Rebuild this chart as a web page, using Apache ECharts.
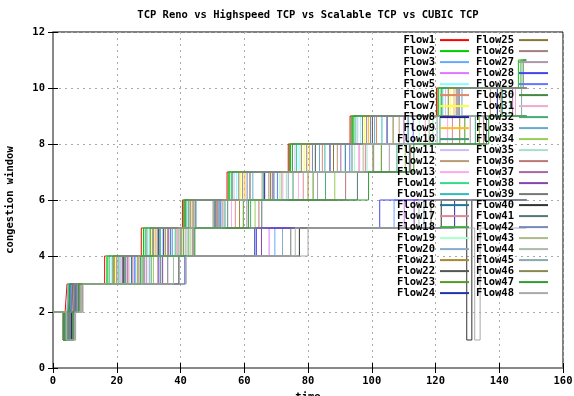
<!DOCTYPE html>
<html>
<head>
<meta charset="utf-8">
<title>TCP Reno vs Highspeed TCP vs Scalable TCP vs CUBIC TCP</title>
<script src="https://cdn.jsdelivr.net/npm/echarts@6/dist/echarts.min.js"></script>
<style>
  html, body { margin: 0; padding: 0; background: #fff; }
  #chart { width: 574px; height: 396px; }
</style>
</head>
<body>
<div id="chart"></div>
<script>
const FONT = "'DejaVu Sans Mono', 'Liberation Mono', monospace";

const chartTitle = "TCP Reno vs Highspeed TCP vs Scalable TCP vs CUBIC TCP";
const xTicks = { min: 0, max: 160, step: 20 };
const yTicks = { min: 0, max: 12, step: 2 };

const flowNames = [];
for (let i = 1; i <= 48; i++) flowNames.push("Flow" + i);

const flowColors = [
  "#ff0000", "#00cc00", "#66aaff", "#dd77ff", "#88ffff", "#dd8866",
  "#ffff33", "#222299", "#ffbb22", "#449977", "#ccbbff", "#bb9977",
  "#ffaaee", "#33dd88", "#33bbbb", "#227799", "#dd8899", "#44aa44",
  "#aaffcc", "#88aacc", "#aa8833", "#555555", "#559922", "#2233aa",
  "#887733", "#a08080", "#aa99aa", "#4444ee", "#6677ff", "#448844",
  "#eeaacc", "#44aa77", "#66aacc", "#99cc55", "#aaddcc", "#bb7777",
  "#aa66aa", "#8844aa", "#777777", "#333333", "#557777", "#7788bb",
  "#aabb88", "#aabbaa", "#88aaaa", "#888855", "#339933", "#aaaaaa"
];

// cwnd change points, flat: time, cwnd, time, cwnd ...
// Flow1 - Flow12
const flowsA = [
  [0,2, 3.3,1, 3.8,2, 4.4,3, 16.2,4, 27.7,5, 40.6,6, 54.6,7, 73.8,8, 93.2,9, 120.3,10, 148.5,10],
  [0,2, 3.5,1, 4.6,2, 5.0,3, 17.0,4, 28.4,5, 41.2,6, 55.3,7, 74.5,8, 94.0,9, 121.0,10, 146.0,11, 148.5,11],
  [0,2, 3.6,1, 4.9,2, 5.9,3, 25.8,4, 69.6,5, 107.0,6, 148.5,6],
  [0,2, 3.9,1, 5.7,2, 6.6,3, 28.8,4, 67.8,5, 110.2,6, 148.5,6],
  [0,2, 3.9,1, 4.5,2, 5.8,3, 18.3,4, 30.1,5, 42.8,6, 57.6,7, 77.2,8, 96.5,9, 122.4,10, 148.5,10],
  [0,2, 3.4,1, 4.4,2, 5.1,3, 19.3,4, 33.2,5, 50.2,6, 65.6,7, 84.5,8, 101.5,9, 137.2,10, 148.5,10],
  [0,2, 3.2,1, 4.8,2, 6.1,3, 19.5,4, 31.0,5, 43.6,6, 58.9,7, 78.8,8, 97.8,9, 124.6,10, 148.5,10],
  [0,2, 3.7,1, 5.3,2, 6.0,3, 21.9,4, 34.6,5, 50.8,6, 66.4,7, 86.9,8, 104.8,9, 139.4,10, 148.5,10],
  [0,2, 4.1,1, 5.2,2, 6.5,3, 20.4,4, 32.2,5, 44.1,6, 60.2,7, 80.5,8, 99.0,9, 125.8,10, 148.5,10],
  [0,2, 3.4,1, 5.0,2, 5.4,3, 22.4,4, 38.3,5, 54.8,6, 75.3,7, 93.8,8, 121.4,9, 148.5,9],
  [0,2, 3.6,1, 5.5,2, 5.9,3, 21.2,4, 29.6,5, 42.3,6, 56.8,7, 75.9,8, 95.6,9, 123.1,10, 148.5,10],
  [0,2, 4.0,1, 5.7,2, 6.8,3, 23.8,4, 35.9,5, 51.4,6, 67.7,7, 89.2,8, 108.6,9, 148.5,9]
];
// Flow13 - Flow24
const flowsB = [
  [0,2, 3.8,1, 4.2,2, 4.8,3, 23.6,4, 38.8,5, 56.0,6, 77.0,7, 95.9,8, 123.8,9, 148.5,9],
  [0,2, 3.4,1, 4.1,2, 4.9,3, 16.8,4, 28.9,5, 41.8,6, 55.9,7, 76.4,8, 95.0,9, 121.7,10, 148.5,10],
  [0,2, 3.2,1, 4.0,2, 4.7,3, 20.7,4, 33.7,5, 50.5,6, 66.0,7, 85.3,8, 103.2,9, 141.0,10, 148.5,10],
  [0,2, 3.6,1, 4.9,2, 5.5,3, 24.6,4, 36.8,5, 52.1,6, 69.3,7, 91.7,8, 111.4,9, 148.5,9],
  [0,2, 4.0,1, 5.5,2, 6.4,3, 25.0,4, 39.5,5, 57.2,6, 78.5,7, 98.0,8, 125.3,9, 148.5,9],
  [0,2, 3.7,1, 5.0,2, 5.6,3, 17.6,4, 29.2,5, 40.9,6, 55.0,7, 74.2,8, 93.6,9, 120.7,10, 146.8,11, 148.5,11],
  [0,2, 4.2,1, 6.4,2, 7.8,3, 26.3,4, 38.1,5, 52.9,6, 71.0,7, 94.6,8, 114.9,9, 143.3,10, 148.5,10],
  [0,2, 3.2,1, 4.6,2, 5.4,3, 30.2,4, 72.0,5, 116.4,6, 148.5,6],
  [0,2, 3.6,1, 6.5,2, 7.4,3, 26.6,4, 40.4,5, 58.5,6, 80.0,7, 100.6,8, 127.6,9, 148.5,9],
  [0,2, 4.0,1, 6.2,2, 7.0,3, 22.1,4, 33.1,5, 44.6,6, 61.8,7, 82.3,8, 100.2,9, 127.4,10, 148.5,10],
  [0,2, 3.1,1, 4.5,2, 5.2,3, 28.5,4, 41.0,5, 59.7,6, 81.6,7, 103.0,8, 129.2,9, 148.5,9],
  [0,2, 4.1,1, 6.0,2, 7.2,3, 41.4,4, 63.3,5, 126.0,6, 148.5,6]
];
// Flow25 - Flow36
const flowsC = [
  [0,2, 3.8,1, 5.6,2, 6.2,3, 22.8,4, 35.2,5, 51.1,6, 68.2,7, 88.0,8, 106.7,9, 140.6,10, 148.5,10],
  [0,2, 3.8,1, 5.9,2, 6.6,3, 21.7,4, 32.7,5, 43.2,6, 59.5,7, 79.6,8, 98.4,9, 126.5,10, 148.5,10],
  [0,2, 4.2,1, 6.8,2, 8.6,3, 29.4,4, 41.7,5, 60.8,6, 83.0,7, 105.5,8, 130.9,9, 148.5,9],
  [0,2, 3.5,1, 5.3,2, 6.3,3, 33.2,4, 63.8,5, 102.5,6, 148.5,6],
  [0,2, 3.3,1, 4.7,2, 5.7,3, 25.5,4, 37.4,5, 52.6,6, 70.4,7, 93.1,8, 113.0,9, 148.5,9],
  [0,2, 3.3,1, 4.3,2, 5.3,3, 18.8,4, 30.5,5, 41.5,6, 56.2,7, 75.1,8, 94.4,9, 122.0,10, 147.5,11, 148.5,11],
  [0,2, 4.1,1, 6.1,2, 6.7,3, 27.1,4, 38.9,5, 53.4,6, 72.1,7, 96.2,8, 116.8,9, 145.1,10, 148.5,10],
  [0,2, 3.9,1, 6.7,2, 9.0,3, 30.8,4, 42.4,5, 62.0,6, 85.5,7, 107.9,8, 132.5,9, 148.5,9],
  [0,2, 4.2,1, 6.0,2, 7.3,3, 22.5,4, 33.4,5, 44.9,6, 62.7,7, 83.6,8, 100.9,9, 128.3,10, 148.5,10],
  [0,2, 3.5,1, 6.0,2, 7.7,3, 31.5,4, 43.0,5, 63.4,6, 88.4,7, 110.5,8, 133.8,9, 148.5,9],
  [0,2, 3.5,1, 5.8,2, 7.1,3, 27.9,4, 39.6,5, 53.8,6, 73.2,7, 98.5,8, 119.2,9, 148.5,9],
  [0,2, 4.1,1, 7.0,2, 9.3,3, 32.9,4, 43.7,5, 64.6,6, 91.8,7, 112.2,8, 135.1,9, 148.5,9]
];
// Flow37 - Flow48
const flowsD = [
  [0,2, 3.9,1, 6.3,2, 8.2,3, 23.3,4, 36.2,5, 51.7,6, 68.8,7, 90.3,8, 110.1,9, 144.2,10, 148.5,10],
  [0,2, 3.8,1, 6.4,2, 7.5,3, 34.4,4, 65.4,5, 113.3,6, 148.5,6],
  [0,2, 4.0,1, 6.6,2, 8.4,3, 36.0,4, 74.6,5, 118.6,6, 148.5,6],
  [0,2, 3.4,1, 5.8,2, 7.0,3, 39.5,4, 77.3,5, 121.8,6, 129.8,1, 131.4,6, 148.5,6],
  [0,2, 3.3,1, 5.2,2, 6.9,3, 33.8,4, 44.2,5, 65.5,6, 95.5,7, 111.8,8, 136.0,9, 148.5,9],
  [0,2, 3.9,1, 5.4,2, 6.9,3, 20.0,4, 31.6,5, 43.9,6, 60.9,7, 81.4,8, 99.6,9, 127.0,10, 148.5,10],
  [0,2, 4.3,1, 6.9,2, 8.9,3, 26.8,4, 39.2,5, 53.1,6, 71.6,7, 97.3,8, 118.0,9, 148.5,9],
  [0,2, 3.7,1, 6.8,2, 8.8,3, 37.8,4, 76.0,5, 114.8,6, 148.5,6],
  [0,2, 3.7,1, 6.6,2, 7.6,3, 28.0,4, 40.0,5, 54.0,6, 73.8,7, 100.3,8, 120.5,9, 147.0,10, 148.5,10],
  [0,2, 3.5,1, 5.1,2, 6.3,3, 19.1,4, 31.3,5, 42.6,6, 58.3,7, 77.9,8, 97.1,9, 124.0,10, 148.5,10],
  [0,2, 3.7,1, 6.2,2, 8.0,3, 27.5,4, 44.5,5, 61.3,6, 99.0,7, 113.2,8, 136.7,9, 148.5,9],
  [0,2, 4.2,1, 7.1,2, 9.4,3, 41.8,4, 80.0,5, 132.3,1, 134.0,5, 148.5,5]
];

const allFlows = flowsA.concat(flowsB, flowsC, flowsD);

const series = allFlows.map(function (flat, i) {
  const pts = [];
  for (let k = 0; k < flat.length; k += 2) {
    pts.push([flat[k], flat[k + 1]]);
  }
  return {
    name: flowNames[i],
    type: "line",
    step: "end",
    symbol: "none",
    silent: true,
    animation: false,
    emphasis: { disabled: true },
    data: pts,
    lineStyle: { width: 1, color: flowColors[i] },
    itemStyle: { color: flowColors[i] }
  };
});

const textBold = { fontFamily: FONT, fontWeight: "bold", fontSize: 10.5, color: "#000" };

const legendBase = {
  orient: "vertical",
  align: "right",
  icon: "rect",
  itemWidth: 29,
  itemHeight: 2,
  itemGap: 0,
  padding: 0,
  selectedMode: false,
  textStyle: Object.assign({ lineHeight: 10.83 }, textBold)
};

const option = {
  animation: false,
  backgroundColor: "#fff",
  title: {
    text: chartTitle,
    left: 308,
    top: 10,
    padding: 0,
    textAlign: "center",
    textStyle: textBold
  },
  legend: [
    Object.assign({}, legendBase, { data: flowNames.slice(0, 24), right: 105, top: 34.6 }),
    Object.assign({}, legendBase, { data: flowNames.slice(24), right: 26, top: 34.6 })
  ],
  grid: {
    left: 53,
    right: 11,
    top: 32,
    bottom: 28,
    show: true,
    borderColor: "#000",
    borderWidth: 1,
    outerBoundsMode: "none"
  },
  xAxis: [
    {
      type: "value",
      position: "bottom",
      min: xTicks.min,
      max: xTicks.max,
      interval: xTicks.step,
      name: "time",
      nameLocation: "middle",
      nameGap: 22,
      nameTextStyle: textBold,
      axisLine: { show: true, onZero: false, lineStyle: { color: "#888", width: 2 } },
      axisTick: { show: true, inside: true, length: 5, lineStyle: { color: "#000" } },
      axisLabel: Object.assign({ margin: 8 }, textBold),
      splitLine: { show: true, lineStyle: { color: "#aaa", type: [2, 4], width: 1 } }
    },
    {
      type: "value",
      position: "top",
      min: xTicks.min,
      max: xTicks.max,
      interval: xTicks.step,
      axisLine: { show: false },
      axisTick: { show: true, inside: true, length: 5, lineStyle: { color: "#000" } },
      axisLabel: { show: false },
      splitLine: { show: false }
    }
  ],
  yAxis: [
    {
      type: "value",
      position: "left",
      min: yTicks.min,
      max: yTicks.max,
      interval: yTicks.step,
      name: "congestion window",
      nameLocation: "middle",
      nameGap: 37,
      nameTextStyle: textBold,
      axisLine: { show: true, onZero: false, lineStyle: { color: "#888", width: 2 } },
      axisTick: { show: true, inside: true, length: 5, lineStyle: { color: "#000" } },
      axisLabel: Object.assign({ margin: 8 }, textBold),
      splitLine: { show: true, lineStyle: { color: "#aaa", type: [2, 4], width: 1 } }
    },
    {
      type: "value",
      position: "right",
      min: yTicks.min,
      max: yTicks.max,
      interval: yTicks.step,
      axisLine: { show: false },
      axisTick: { show: true, inside: true, length: 5, lineStyle: { color: "#000" } },
      axisLabel: { show: false },
      splitLine: { show: false }
    }
  ],
  series: series
};

const chart = echarts.init(document.getElementById("chart"), null, { renderer: "canvas" });
chart.setOption(option);
</script>
</body>
</html>
